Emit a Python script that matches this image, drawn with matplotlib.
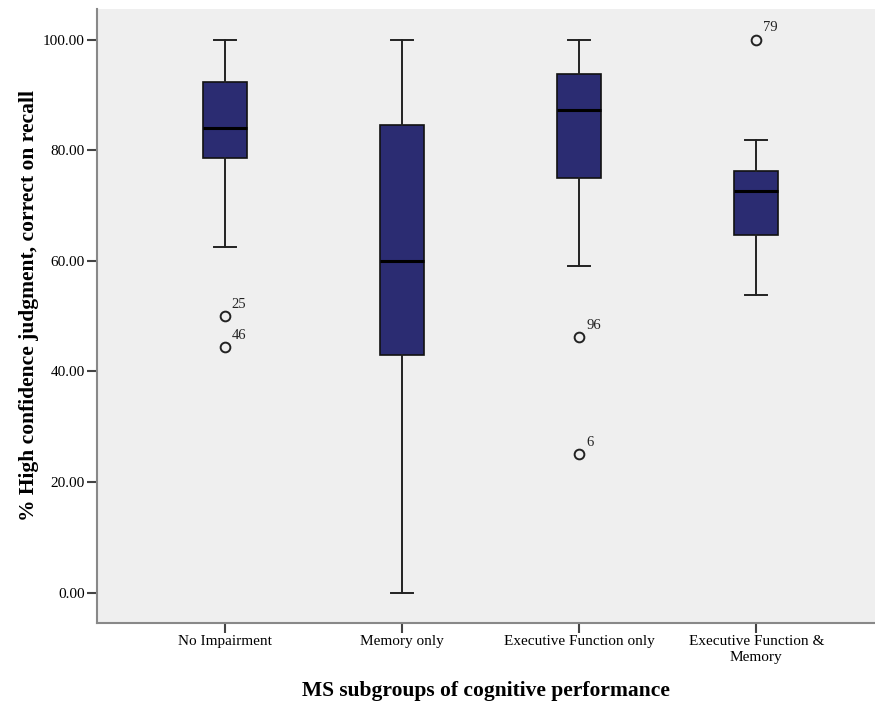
import matplotlib.pyplot as plt

# Values
groups = ["No Impairment", "Memory only", "Executive Function only",
          "Executive Function &\nMemory"]
whisker_low = [62.5, 0.0, 59.1, 53.8]
q1 = [78.6, 42.9, 75.0, 64.6]
median = [84.0, 60.0, 87.2, 72.7]
q3 = [92.3, 84.5, 93.7, 76.3]
whisker_high = [100.0, 100.0, 100.0, 81.8]
outliers = [[50.0, 44.4], [], [46.2, 25.0], [100.0]]
outlier_ids = [["25", "46"], [], ["96", "6"], ["79"]]

plt.rcParams["font.family"] = ["Liberation Serif", "DejaVu Serif"]

fig = plt.figure(figsize=(8.75, 7.06), dpi=100)
ax = fig.add_axes([0.111, 0.1176, 0.889, 0.8695])
ax.set_facecolor("#efefef")

stats = []
for i in range(len(groups)):
    stats.append({
        "whislo": whisker_low[i], "q1": q1[i], "med": median[i],
        "q3": q3[i], "whishi": whisker_high[i], "fliers": outliers[i],
    })

positions = range(1, len(groups) + 1)
ax.bxp(stats, positions=positions, widths=0.25, patch_artist=True,
       boxprops=dict(facecolor="#2b2c72", edgecolor="#111111", linewidth=1.2),
       medianprops=dict(color="black", linewidth=2.2),
       whiskerprops=dict(color="#222222", linewidth=1.4),
       capprops=dict(color="#222222", linewidth=1.4),
       capwidths=0.125,
       flierprops=dict(marker="o", markerfacecolor="none", markeredgecolor="#222222",
                       markersize=7, markeredgewidth=1.4))

for pos, vals, ids in zip(positions, outliers, outlier_ids):
    for v, label in zip(vals, ids):
        ax.annotate(label, (pos, v), xytext=(5, 6), textcoords="offset points",
                    fontsize=10.5, color="#222222")

ax.set_xlim(0.28, 4.67)
ax.set_ylim(-5.5, 105.5)
ax.set_yticks([0, 20, 40, 60, 80, 100])
ax.set_yticklabels([f"{v:.2f}" for v in [0, 20, 40, 60, 80, 100]], fontsize=11)
ax.set_xticks(list(positions))
ax.set_xticklabels(groups, fontsize=11, linespacing=1.25)

for side in ["top", "right"]:
    ax.spines[side].set_visible(False)
for side in ["left", "bottom"]:
    ax.spines[side].set_color("#888888")
    ax.spines[side].set_linewidth(1.5)
ax.tick_params(axis="both", length=7, width=1.5, color="#444444", pad=2)

ax.set_ylabel("% High confidence judgment, correct on recall", fontsize=15.5,
              fontweight="bold", labelpad=2.5)
ax.yaxis.label.set_y(0.517)
ax.set_xlabel("MS subgroups of cognitive performance", fontsize=15.5,
              fontweight="bold", labelpad=12)

fig.savefig("out.png", dpi=100)
